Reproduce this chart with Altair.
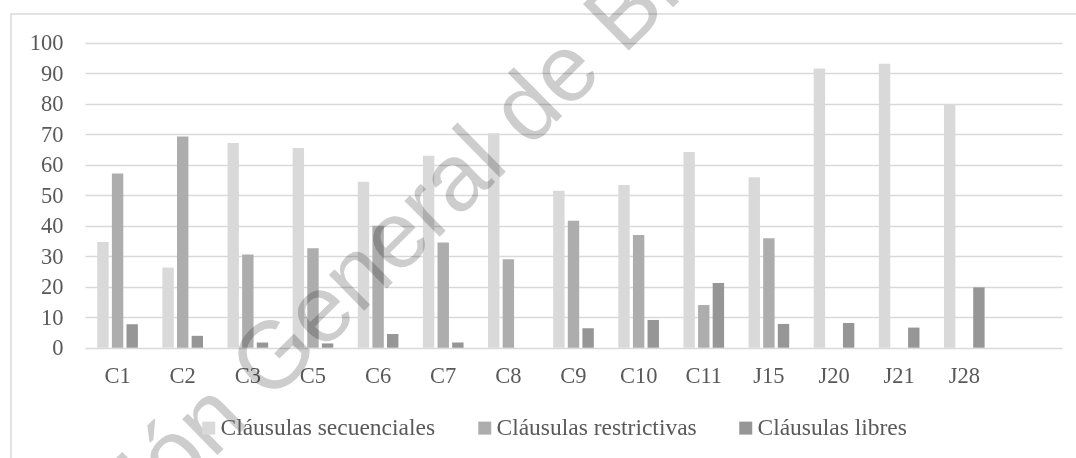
import altair as alt
import pandas as pd

categories = ["C1", "C2", "C3", "C5", "C6", "C7", "C8", "C9", "C10", "C11", "J15", "J20", "J21", "J28"]
series_names = ["Cláusulas secuenciales", "Cláusulas restrictivas", "Cláusulas libres"]
secuenciales = [34.7, 26.3, 67.2, 65.5, 54.5, 63.0, 70.4, 51.5, 53.4, 64.2, 55.9, 91.6, 93.2, 79.9]
restrictivas = [57.2, 69.3, 30.6, 32.6, 40.0, 34.5, 29.0, 41.7, 37.0, 14.0, 35.9, 0, 0, 0]
libres = [7.7, 3.9, 1.7, 1.4, 4.5, 1.7, 0, 6.4, 9.1, 21.2, 7.8, 8.1, 6.6, 19.8]
y_ticks = [0, 10, 20, 30, 40, 50, 60, 70, 80, 90, 100]
colors = ["#d9d9d9", "#adadad", "#969696"]
watermark = "Dirección General de Bibliotecas"

rows = []
for name, vals in zip(series_names, [secuenciales, restrictivas, libres]):
    for c, v in zip(categories, vals):
        rows.append({"cat": c, "serie": name, "valor": v})
df = pd.DataFrame(rows)

x_domain = categories + [" "]
text_color = "#595959"
serif = "Liberation Serif"

bars = alt.Chart(df).mark_bar().encode(
    x=alt.X("cat:N", sort=x_domain,
            scale=alt.Scale(domain=x_domain, paddingInner=0.376, paddingOuter=0.188),
            axis=alt.Axis(title=None, labelAngle=0, ticks=False, tickSize=0, domain=False,
                          grid=False, labelFont=serif, labelFontSize=22.5, labelColor=text_color,
                          labelPadding=17)),
    xOffset=alt.XOffset("serie:N", sort=series_names,
                        scale=alt.Scale(domain=series_names, paddingInner=0.22, paddingOuter=0)),
    y=alt.Y("valor:Q", scale=alt.Scale(domain=[0, 100], nice=False),
            axis=alt.Axis(title=None, values=y_ticks, ticks=False, tickSize=0, domain=False,
                          grid=True, gridColor="#d9d9d9", gridWidth=1.5,
                          labelFont=serif, labelFontSize=22.5, labelColor=text_color,
                          labelPadding=22)),
    color=alt.Color("serie:N", sort=series_names,
                    scale=alt.Scale(domain=series_names, range=colors),
                    legend=alt.Legend(title=None, orient="none", direction="horizontal",
                                      legendX=112, legendY=373, symbolType="square",
                                      symbolSize=169, symbolStrokeWidth=0, symbolOpacity=1,
                                      labelFont=serif, labelFontSize=23.5, labelColor=text_color,
                                      labelOffset=0, columnPadding=37, labelLimit=400)),
)

one = alt.Data(values=[{"k": 1}])

frame = alt.Chart(one).mark_rect(filled=False, stroke="#d9d9d9", strokeWidth=1.5).encode(
    x=alt.value(-74), x2=alt.value(996), y=alt.value(-29), y2=alt.value(420)
)

wm = alt.Chart(one).mark_text(
    text=watermark, font="Liberation Sans", fontSize=95, angle=315.5,
    align="left", baseline="alphabetic", color="#cdcdcd", blend="multiply"
).encode(x=alt.value(-117), y=alt.value(657))

chart = alt.layer(frame, bars, wm).properties(
    width=977, height=304.7,
    autosize=alt.AutoSizeParams(type="none"),
    padding={"left": 85, "top": 43, "right": 14, "bottom": 110},
    background="white",
).configure_view(stroke=None)

chart.save("out.html", embed_options={"renderer": "svg", "actions": False})
